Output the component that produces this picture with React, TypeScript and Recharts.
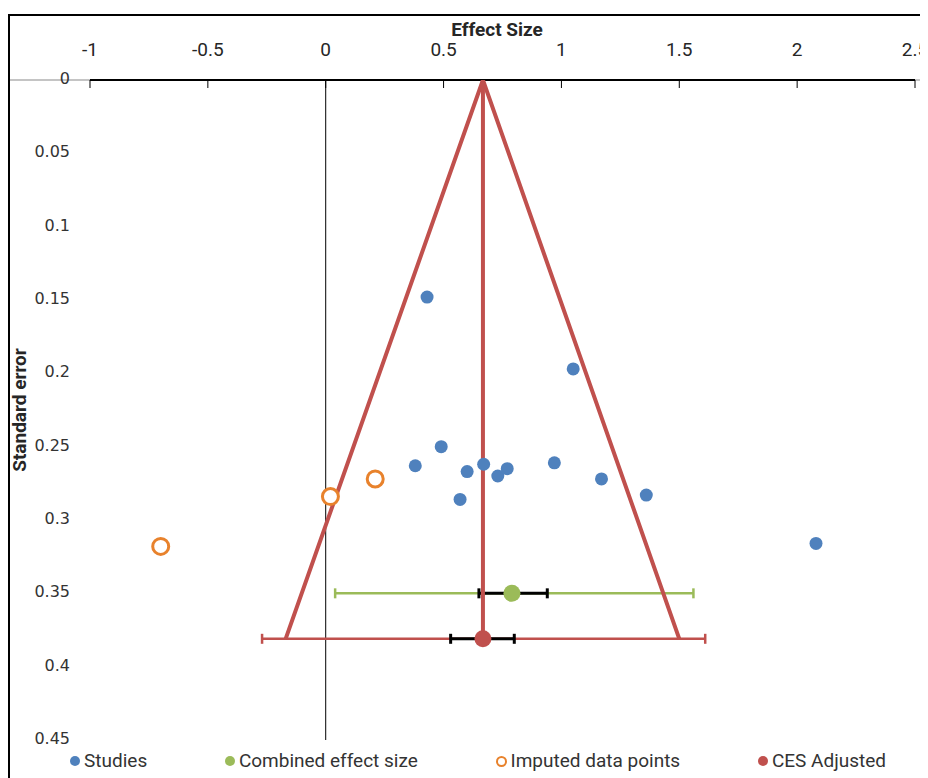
import React from "react";
import { ScatterChart, Scatter, XAxis, YAxis, ErrorBar, ReferenceLine } from "recharts";

// effect size / standard error of the original studies
const studyEffect = [0.43, 1.05, 0.49, 0.38, 0.6, 0.67, 0.73, 0.77, 0.97, 1.17, 1.36, 0.57, 2.08];
const studySE = [0.148, 0.197, 0.25, 0.263, 0.267, 0.262, 0.27, 0.265, 0.261, 0.272, 0.283, 0.286, 0.316];

// trim-and-fill imputed points
const imputedEffect = [-0.7, 0.02, 0.21];
const imputedSE = [0.318, 0.284, 0.272];

// combined effect size and its intervals
const combinedEffect = 0.79;
const combinedSE = 0.35;
const combinedOuter = [0.04, 1.56];
const combinedInner = [0.65, 0.94];

// adjusted combined effect size
const adjustedEffect = 0.667;
const adjustedSE = 0.381;
const adjustedOuter = [-0.27, 1.61];
const adjustedInner = [0.53, 0.8];

// funnel outline
const funnelEffect = [-0.17, 0.667, 1.5];
const funnelSE = [0.381, 0, 0.381];

const xTicks = [-1, -0.5, 0, 0.5, 1, 1.5, 2, 2.5];
const yTicks = [0, 0.05, 0.1, 0.15, 0.2, 0.25, 0.3, 0.35, 0.4, 0.45];

const ORANGE = "#E8822C";
const RED = "#C0504D";
const NARROW = "'Liberation Sans Narrow', 'Roboto', sans-serif";

const legendItems = [
  { name: "Studies", color: "#4F81BD", open: false },
  { name: "Combined effect size", color: "#9BBB59", open: false },
  { name: "Imputed data points", color: ORANGE, open: true },
  { name: "CES Adjusted", color: RED, open: false },
];

const studies = studyEffect.map((x, i) => ({ x, y: studySE[i] }));
const imputed = imputedEffect.map((x, i) => ({ x, y: imputedSE[i] }));
const combined = [
  {
    x: combinedEffect,
    y: combinedSE,
    outer: [combinedEffect - combinedOuter[0], combinedOuter[1] - combinedEffect],
    inner: [combinedEffect - combinedInner[0], combinedInner[1] - combinedEffect],
  },
];
const adjusted = [
  {
    x: adjustedEffect,
    y: adjustedSE,
    outer: [adjustedEffect - adjustedOuter[0], adjustedOuter[1] - adjustedEffect],
    inner: [adjustedEffect - adjustedInner[0], adjustedInner[1] - adjustedEffect],
  },
];
const funnel = funnelEffect.map((x, i) => ({ x, y: funnelSE[i] }));
const midline = [
  { x: adjustedEffect, y: 0 },
  { x: adjustedEffect, y: adjustedSE },
];

const dot = (r: number, fill: string) => (p: any) => <circle cx={p.cx} cy={p.cy} r={r} fill={fill} />;
const ring = (p: any) => <circle cx={p.cx} cy={p.cy} r={8} fill="#fff" stroke={ORANGE} strokeWidth={3} />;
const noShape = () => <g />;

const TopTick = (props: any) => {
  const { x, y, payload } = props;
  return (
    <g>
      <line x1={x} x2={x} y1={y + 24} y2={y + 32} stroke="#000" strokeWidth={1} />
      <text x={x} y={y} textAnchor="middle" fontSize={19} fontFamily={NARROW} fill="#262626">
        {payload.value}
      </text>
    </g>
  );
};

const LeftTick = (props: any) => {
  const { x, y, payload } = props;
  return (
    <text x={x} y={y + 4} textAnchor="end" fontSize={16} fontFamily="'DejaVu Sans', sans-serif" fill="#333">
      {payload.value}
    </text>
  );
};

export default function App() {
  return (
    <div
      style={{
        position: "relative",
        marginTop: 6,
        width: 920,
        height: 764,
        boxSizing: "border-box",
        borderTop: "2px solid #000",
        borderLeft: "2px solid #000",
        borderRight: "1px solid #d0d0d0",
        background: "#fff",
      }}
    >
      <div style={{ position: "absolute", left: 0, top: 63, width: 917, height: 2, background: "#c4c4c4" }} />
      <div style={{ position: "absolute", left: 0, top: 0 }}>
        <ScatterChart width={917} height={762} margin={{ top: 24, right: 12, left: 0, bottom: 38 }}>
          <XAxis
            type="number"
            dataKey="x"
            orientation="top"
            domain={[-1, 2.5]}
            ticks={xTicks}
            height={40}
            axisLine={{ stroke: "#000", strokeWidth: 2 }}
            tickLine={false}
            tickSize={0}
            tickMargin={24}
            tick={<TopTick />}
            allowDataOverflow
          />
          <YAxis
            type="number"
            dataKey="y"
            reversed
            domain={[0, 0.45]}
            ticks={yTicks}
            width={80}
            axisLine={false}
            tickLine={false}
            tickSize={0}
            tickMargin={20}
            tick={<LeftTick />}
            allowDataOverflow
          />
          <ReferenceLine x={0} stroke="#000" strokeWidth={1} />
          <Scatter data={funnel} line={{ stroke: RED, strokeWidth: 4 }} shape={noShape} isAnimationActive={false} />
          <Scatter data={midline} line={{ stroke: RED, strokeWidth: 4 }} shape={noShape} isAnimationActive={false} />
          <Scatter data={studies} shape={dot(6.5, "#4F81BD")} isAnimationActive={false} />
          <Scatter data={imputed} shape={ring} isAnimationActive={false} />
          <Scatter data={combined} shape={dot(8.5, "#9BBB59")} isAnimationActive={false}>
            <ErrorBar dataKey="outer" direction="x" width={5} stroke="#9BBB59" strokeWidth={2.5} />
            <ErrorBar dataKey="inner" direction="x" width={5} stroke="#000" strokeWidth={3} />
          </Scatter>
          <Scatter data={adjusted} shape={dot(8.5, RED)} isAnimationActive={false}>
            <ErrorBar dataKey="outer" direction="x" width={5} stroke={RED} strokeWidth={2.5} />
            <ErrorBar dataKey="inner" direction="x" width={5} stroke="#000" strokeWidth={3} />
          </Scatter>
        </ScatterChart>
      </div>
      <div
        style={{
          position: "absolute",
          left: 387,
          top: 4,
          width: 200,
          textAlign: "center",
          fontFamily: NARROW,
          fontWeight: "bold",
          fontSize: 19,
          lineHeight: "20px",
          color: "#262626",
        }}
      >
        Effect Size
      </div>
      <div
        style={{
          position: "absolute",
          left: -90,
          top: 384,
          width: 200,
          height: 20,
          textAlign: "center",
          transform: "rotate(-90deg)",
          fontFamily: NARROW,
          fontWeight: "bold",
          fontSize: 19,
          lineHeight: "20px",
          color: "#262626",
        }}
      >
        Standard error
      </div>
      <div
        style={{
          position: "absolute",
          left: 60,
          top: 734,
          width: 816,
          display: "flex",
          justifyContent: "space-between",
          fontFamily: NARROW,
          fontSize: 19,
          lineHeight: "22px",
          color: "#333",
        }}
      >
        {legendItems.map((it) => (
          <div key={it.name} style={{ display: "flex", alignItems: "center" }}>
            <span
              style={{
                display: "inline-block",
                width: it.open ? 7 : 10,
                height: it.open ? 7 : 10,
                borderRadius: "50%",
                background: it.open ? "#fff" : it.color,
                border: it.open ? `2px solid ${it.color}` : "none",
                marginRight: 4,
              }}
            />
            {it.name}
          </div>
        ))}
      </div>
    </div>
  );
}
